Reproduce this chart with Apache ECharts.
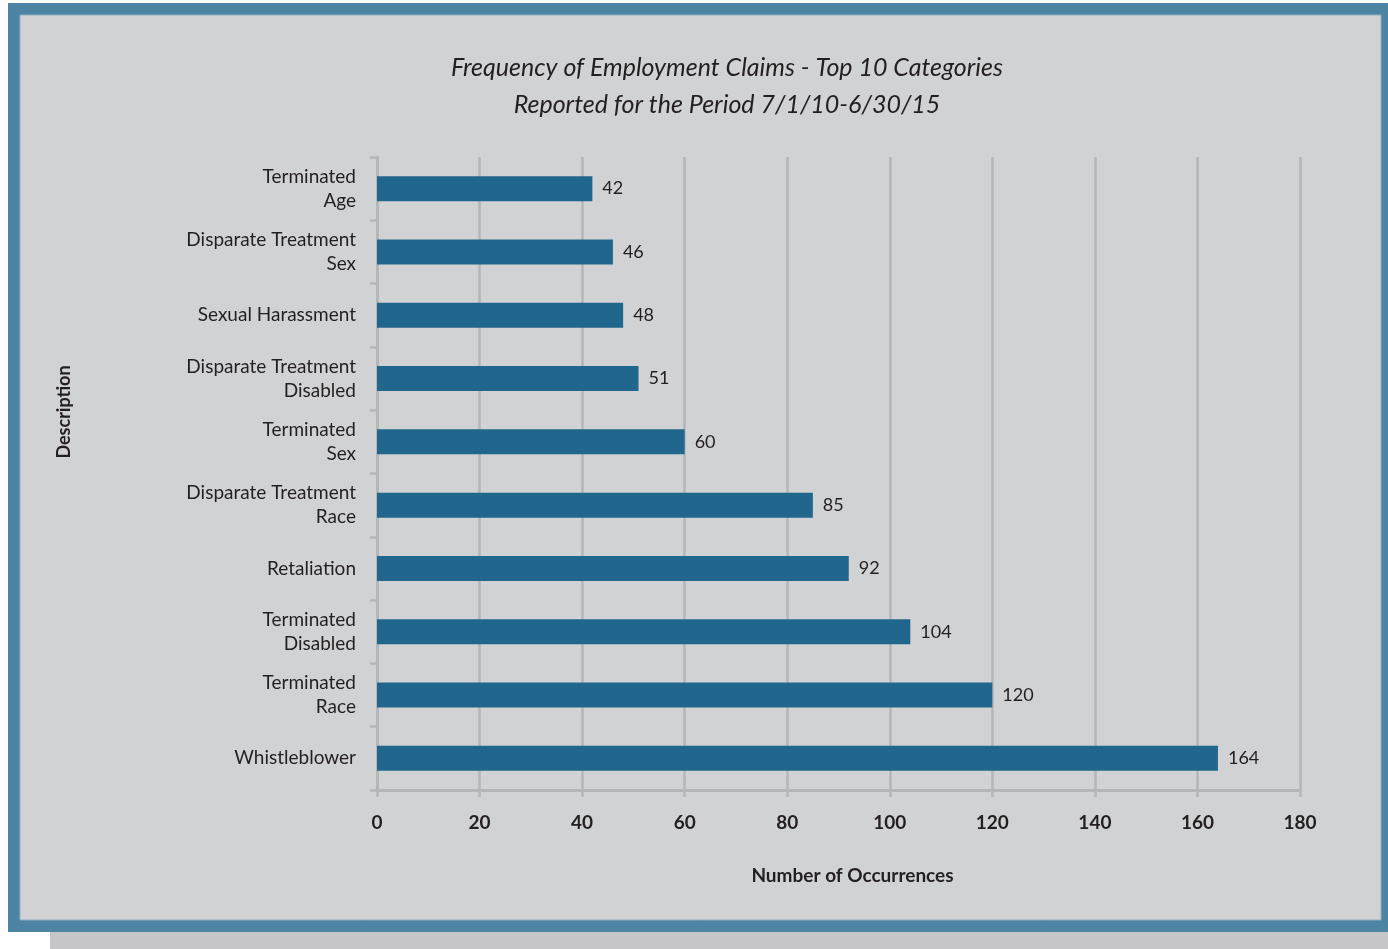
<!DOCTYPE html>
<html>
<head>
<meta charset="utf-8">
<script src="https://cdn.jsdelivr.net/npm/echarts@6/dist/echarts.min.js"></script>
<style>
  html, body { margin: 0; padding: 0; background: #ffffff; }
  #chart { width: 1388px; height: 949px; }
</style>
</head>
<body>
<div id="chart"></div>
<script>
// Claim categories, top to bottom
const categories = [
  'Terminated\nAge',
  'Disparate Treatment\nSex',
  'Sexual Harassment',
  'Disparate Treatment\nDisabled',
  'Terminated\nSex',
  'Disparate Treatment\nRace',
  'Retaliation',
  'Terminated\nDisabled',
  'Terminated\nRace',
  'Whistleblower'
];
// Number of occurrences per category
const occurrences = [42, 46, 48, 51, 60, 85, 92, 104, 120, 164];
// Value axis range
const xMin = 0;
const xMax = 180;
const xStep = 20;

const FONT = 'Lato, "Open Sans", sans-serif';
const GRID_GREY = '#b5b6b8';
const TEXT = '#231f20';

const chart = echarts.init(document.getElementById('chart'), null, { renderer: 'canvas' });

chart.setOption({
  backgroundColor: '#ffffff',
  animation: false,
  graphic: [
    // drop shadow strip below the frame
    { type: 'rect', z: -10, shape: { x: 50, y: 932, width: 1338, height: 17 }, style: { fill: '#c6c6c8' } },
    // blue frame
    { type: 'rect', z: -9, shape: { x: 8, y: 3, width: 1380, height: 929 }, style: { fill: '#4d84a4' } },
    // grey panel
    { type: 'rect', z: -8, shape: { x: 20, y: 15, width: 1361, height: 905 }, style: { fill: '#d1d2d4', stroke: '#8eaec2', lineWidth: 1 } },
    // vertical axis title
    {
      type: 'text', z: 10, x: 64, y: 412, rotation: Math.PI / 2,
      style: { text: 'Description', font: 'bold 18px ' + FONT, fill: TEXT, align: 'center', verticalAlign: 'middle' }
    }
  ],
  title: {
    text: 'Frequency of Employment Claims - Top 10 Categories\nReported for the Period 7/1/10-6/30/15',
    left: 722, top: 44, textAlign: 'center',
    textStyle: { fontFamily: FONT, fontStyle: 'italic', fontWeight: 'normal', fontSize: 25, lineHeight: 37, color: TEXT }
  },
  grid: { left: 377, right: 88, top: 157, bottom: 159, containLabel: false },
  xAxis: {
    type: 'value', min: xMin, max: xMax, interval: xStep,
    name: 'Number of Occurrences', nameLocation: 'middle', nameGap: 76,
    nameTextStyle: { fontFamily: FONT, fontWeight: 'bold', fontSize: 19, color: TEXT, padding: [0, 0, 0, 28] },
    axisLine: { show: true, lineStyle: { color: GRID_GREY, width: 3 } },
    axisTick: { show: true, length: 7, lineStyle: { color: GRID_GREY, width: 2.5 } },
    axisLabel: { margin: 23, fontFamily: FONT, fontWeight: 'bold', fontSize: 19, color: TEXT },
    splitLine: { show: true, lineStyle: { color: GRID_GREY, width: 2.5 } }
  },
  yAxis: {
    type: 'category', data: categories, inverse: true,
    axisLine: { show: true, lineStyle: { color: GRID_GREY, width: 3 } },
    axisTick: { show: true, length: 7, lineStyle: { color: GRID_GREY, width: 2.5 } },
    axisLabel: { margin: 21, fontFamily: FONT, fontSize: 19, lineHeight: 24, color: TEXT, align: 'right' },
    splitLine: { show: false }
  },
  series: [{
    type: 'bar',
    data: occurrences,
    barWidth: 25,
    itemStyle: { color: '#21668c' },
    label: {
      show: true, position: 'right', distance: 10,
      fontFamily: FONT, fontSize: 18, color: TEXT
    }
  }]
});
</script>
</body>
</html>
